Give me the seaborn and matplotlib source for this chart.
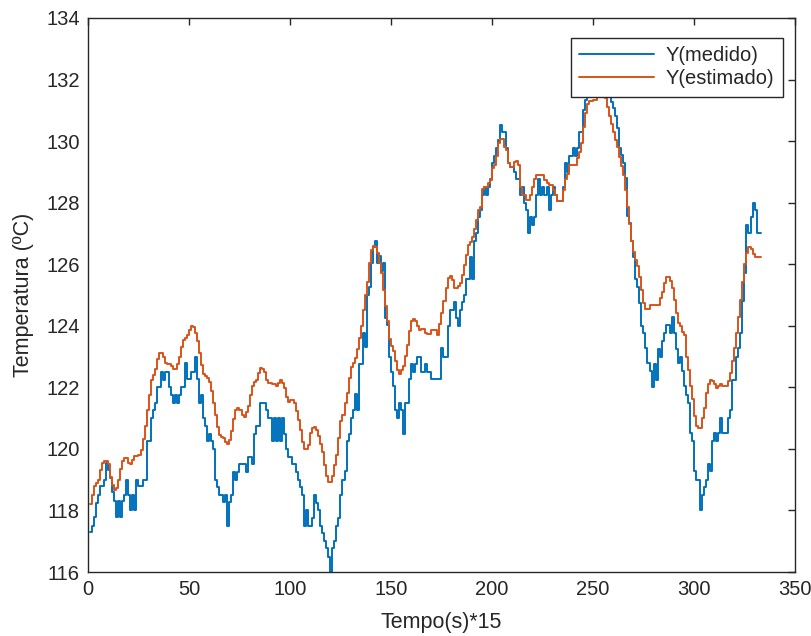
import pandas as pd
import matplotlib
matplotlib.use("Agg")
import matplotlib.pyplot as plt
import seaborn as sns

# Step breakpoints (sample index, temperature)
medido_x = [1, 2, 3, 4, 5, 6, 8, 9, 10, 11, 12, 13, 14, 15, 16, 17, 18, 19, 20, 21, 22, 23, 24, 25, 27, 29,
            31, 32, 33, 34, 36, 37, 38, 40, 41, 42, 43, 44, 45, 46, 48, 49, 51, 53, 54, 55, 56, 57, 58, 59,
            60, 61, 62, 63, 64, 65, 67, 68, 69, 70, 71, 72, 73, 74, 75, 78, 79, 81, 82, 83, 85, 88, 89, 91,
            92, 93, 94, 95, 96, 97, 98, 99, 101, 103, 104, 105, 106, 107, 108, 109, 111, 112, 113, 114, 115,
            116, 117, 118, 119, 120, 121, 122, 123, 124, 125, 126, 127, 128, 129, 130, 131, 132, 133, 134,
            136, 137, 138, 139, 140, 141, 142, 143, 144, 145, 146, 147, 148, 149, 150, 151, 152, 153, 154,
            155, 156, 157, 159, 160, 161, 162, 163, 165, 167, 168, 170, 175, 176, 178, 179, 181, 182, 183,
            184, 185, 186, 187, 189, 190, 191, 192, 193, 194, 195, 196, 197, 198, 199, 200, 201, 202, 203,
            204, 205, 207, 208, 209, 211, 212, 213, 214, 215, 216, 217, 218, 219, 220, 221, 222, 223, 224,
            225, 226, 227, 228, 229, 230, 231, 232, 235, 236, 237, 238, 240, 241, 242, 243, 245, 246, 247,
            248, 250, 252, 254, 256, 258, 259, 260, 261, 262, 263, 264, 265, 266, 267, 268, 269, 270, 271,
            272, 273, 274, 275, 276, 277, 278, 279, 280, 281, 282, 283, 284, 285, 286, 288, 289, 290, 291,
            292, 293, 294, 295, 296, 297, 298, 299, 300, 301, 303, 304, 305, 306, 307, 308, 309, 310, 311,
            312, 313, 314, 317, 318, 319, 321, 322, 323, 324, 325, 326, 327, 328, 329, 330, 331, 333]
medido_y = [117.3, 117.5, 117.8, 118.25, 118.5, 118.8, 119.0, 119.55, 119.3, 119.05, 118.6, 118.3, 117.8,
            118.3, 117.8, 118.3, 118.5, 119.0, 118.5, 118.0, 118.5, 118.0, 119.0, 118.8, 119.0, 120.27,
            121.0, 121.27, 121.5, 122.0, 122.5, 122.25, 122.5, 122.0, 121.75, 121.5, 121.75, 121.5, 121.75,
            122.0, 122.8, 122.27, 122.5, 123.0, 122.27, 121.5, 121.75, 121.0, 120.75, 120.25, 120.5, 120.25,
            120.0, 119.0, 118.77, 118.5, 118.27, 118.5, 117.5, 118.27, 118.5, 119.25, 119.0, 119.25, 119.5,
            119.25, 119.75, 119.5, 120.5, 120.75, 121.5, 121.27, 121.0, 120.25, 121.0, 120.25, 121.0, 120.25,
            121.0, 120.5, 120.0, 119.75, 119.5, 119.25, 119.0, 118.75, 118.5, 117.5, 118.0, 117.5, 117.77,
            118.5, 118.25, 118.0, 117.5, 117.27, 117.0, 116.77, 116.5, 115.9, 116.77, 117.0, 117.5, 117.77,
            118.5, 119.0, 119.27, 120.27, 120.5, 121.0, 121.25, 121.77, 121.25, 122.77, 123.77, 123.3, 125.0,
            125.27, 126.03, 126.57, 126.77, 126.03, 126.27, 125.77, 126.03, 124.26, 124.03, 123.0, 122.5,
            122.03, 121.25, 121.0, 121.5, 121.25, 120.5, 121.5, 122.27, 122.77, 122.5, 122.77, 123.0, 122.5,
            122.77, 122.5, 122.27, 123.28, 123.0, 124.0, 124.52, 124.76, 124.26, 124.0, 124.52, 124.76, 125.0,
            125.52, 126.25, 125.52, 126.77, 127.03, 127.53, 127.77, 128.25, 128.5, 128.25, 128.5, 128.77,
            129.28, 129.52, 129.77, 130.04, 130.53, 130.28, 129.77, 129.28, 129.17, 129.0, 128.77, 128.77,
            128.25, 128.5, 128.0, 127.77, 127.03, 127.53, 127.28, 127.53, 128.25, 128.76, 128.25, 128.5,
            128.25, 128.5, 127.77, 128.25, 128.5, 128.25, 128.04, 128.5, 129.28, 129.0, 129.52, 129.77, 129.52,
            129.77, 130.28, 131.0, 131.34, 131.6, 131.8, 132.0, 131.8, 132.0, 131.8, 131.5, 131.28, 131.06,
            130.8, 130.42, 129.77, 129.55, 129.28, 128.8, 127.57, 127.33, 126.74, 126.25, 125.52, 125.27,
            124.74, 124.0, 123.76, 123.27, 122.79, 122.52, 122.01, 122.77, 122.25, 123.24, 123.0, 123.49,
            123.76, 124.03, 123.76, 124.28, 123.76, 123.24, 122.79, 123.0, 122.52, 122.03, 121.76, 121.5,
            120.52, 120.25, 119.27, 119.0, 118.0, 118.5, 118.75, 119.0, 119.52, 119.27, 120.27, 120.52,
            120.27, 120.52, 121.02, 120.52, 121.02, 121.27, 122.25, 123.0, 123.27, 123.76, 124.79, 125.7,
            127.28, 127.03, 127.53, 128.0, 127.77, 127.03, 127.03]

estimado_x = [1, 2, 3, 4, 5, 6, 7, 8, 10, 11, 12, 13, 14, 15, 16, 17, 18, 20, 21, 22, 23, 25, 26, 27, 28, 29,
              30, 31, 32, 33, 34, 35, 37, 38, 39, 41, 42, 44, 45, 46, 47, 48, 49, 50, 51, 52, 53, 54, 55, 56,
              57, 58, 59, 60, 61, 62, 63, 64, 65, 66, 67, 68, 69, 70, 71, 72, 73, 74, 75, 76, 77, 78, 79, 80,
              81, 82, 83, 84, 85, 86, 87, 88, 89, 91, 93, 94, 95, 96, 97, 98, 99, 100, 102, 103, 104, 105, 106,
              107, 109, 110, 111, 112, 113, 114, 115, 116, 117, 118, 119, 121, 122, 123, 124, 125, 126, 127,
              128, 129, 130, 131, 132, 133, 134, 135, 136, 137, 138, 139, 140, 141, 142, 143, 144, 145, 146,
              147, 148, 149, 150, 151, 152, 153, 154, 155, 156, 157, 158, 159, 160, 161, 162, 163, 164, 165,
              167, 168, 170, 173, 174, 175, 176, 177, 178, 179, 180, 181, 183, 184, 185, 186, 187, 188, 189,
              190, 191, 192, 193, 194, 195, 196, 198, 199, 200, 201, 202, 203, 204, 206, 207, 208, 209, 211,
              212, 213, 214, 215, 217, 219, 220, 221, 222, 226, 227, 228, 230, 231, 232, 235, 236, 237, 238,
              242, 243, 244, 245, 246, 247, 248, 250, 252, 253, 255, 256, 257, 258, 259, 260, 261, 262, 263,
              264, 265, 266, 267, 268, 269, 270, 271, 272, 273, 274, 275, 276, 278, 283, 284, 285, 286, 288,
              289, 290, 291, 292, 293, 294, 295, 296, 297, 298, 299, 300, 301, 302, 304, 305, 306, 307, 308,
              309, 310, 311, 312, 313, 314, 317, 318, 319, 320, 321, 322, 323, 324, 325, 326, 327, 328, 329,
              330, 333]
estimado_y = [118.2, 118.5, 118.78, 118.9, 119.0, 119.32, 119.54, 119.6, 119.5, 119.1, 118.84, 118.68,
              118.72, 119.0, 119.35, 119.6, 119.7, 119.54, 119.5, 119.64, 119.76, 119.8, 119.97, 120.32,
              120.73, 121.27, 121.76, 122.25, 122.4, 122.6, 122.92, 123.13, 123.0, 122.8, 122.77, 122.68,
              122.6, 122.75, 122.98, 123.3, 123.55, 123.6, 123.7, 123.87, 124.0, 123.95, 123.76, 123.49,
              123.13, 122.73, 122.44, 122.37, 122.3, 122.16, 121.87, 121.49, 121.1, 120.71, 120.46, 120.4,
              120.35, 120.21, 120.17, 120.3, 120.57, 120.97, 121.25, 121.33, 121.27, 121.1, 121.05, 121.2,
              121.4, 121.76, 122.05, 122.16, 122.25, 122.46, 122.63, 122.6, 122.5, 122.25, 122.14, 122.1,
              122.03, 122.15, 122.25, 122.14, 121.97, 121.7, 121.54, 121.6, 121.49, 121.22, 120.95, 120.6,
              120.24, 120.0, 120.14, 120.52, 120.68, 120.7, 120.62, 120.43, 120.17, 119.89, 119.49, 119.13,
              118.91, 119.13, 119.49, 119.81, 120.35, 120.9, 121.1, 121.5, 121.83, 122.3, 122.66, 122.79,
              122.95, 123.24, 123.6, 124.0, 124.5, 125.0, 125.42, 126.05, 126.47, 126.6, 126.57, 126.36,
              126.03, 125.71, 125.17, 124.63, 124.14, 123.57, 123.33, 123.17, 122.84, 122.57, 122.44, 122.57,
              122.7, 123.03, 123.38, 123.82, 124.14, 124.21, 124.14, 123.98, 123.87, 123.9, 123.78, 123.74,
              123.87, 123.7, 124.06, 124.41, 124.79, 125.22, 125.55, 125.62, 125.5, 125.22, 125.3, 125.39,
              125.66, 125.98, 126.31, 126.63, 126.71, 126.88, 127.14, 127.44, 127.77, 127.85, 128.44, 128.5,
              128.63, 128.74, 129.12, 129.23, 129.52, 129.95, 130.06, 129.82, 129.71, 129.3, 129.17, 129.33,
              129.36, 129.23, 128.5, 128.25, 128.1, 128.25, 128.5, 128.76, 128.9, 128.74, 128.65, 128.57,
              128.42, 128.25, 128.05, 128.42, 128.76, 128.94, 129.23, 129.45, 129.65, 129.95, 130.45, 130.9,
              131.2, 131.3, 131.35, 131.5, 131.65, 131.6, 131.4, 131.1, 130.8, 130.55, 130.3, 130.05, 129.8,
              129.5, 129.2, 128.9, 128.4, 127.85, 127.3, 126.75, 126.4, 126.15, 125.95, 125.6, 125.15, 124.75,
              124.55, 124.68, 124.9, 125.11, 125.39, 125.6, 125.44, 125.22, 124.84, 124.41, 124.09, 124.0,
              123.8, 123.7, 123.0, 122.55, 122.05, 121.62, 121.08, 120.75, 120.68, 121.0, 121.33, 121.81,
              122.12, 122.25, 122.2, 122.1, 121.98, 122.05, 122.1, 122.03, 122.2, 122.46, 122.84, 123.27,
              123.78, 124.3, 124.84, 125.42, 126.0, 126.38, 126.55, 126.5, 126.33, 126.23, 126.23]

x_ticks = [0, 50, 100, 150, 200, 250, 300, 350]
y_ticks = [116, 118, 120, 122, 124, 126, 128, 130, 132, 134]
labels = ["Y(medido)", "Y(estimado)"]
colors = ["#0072BD", "#D95319"]

df = pd.concat([
    pd.DataFrame({"t": medido_x, "T": medido_y, "serie": labels[0]}),
    pd.DataFrame({"t": estimado_x, "T": estimado_y, "serie": labels[1]}),
])

sns.set_theme(style="white")
plt.rcParams["font.family"] = ["Liberation Sans", "DejaVu Sans"]

fig = plt.figure(figsize=(8.11, 6.36), dpi=100)
ax = fig.add_axes([0.1085, 0.1006, 0.8717, 0.8711])

sns.lineplot(data=df, x="t", y="T", hue="serie", palette=colors, hue_order=labels,
             estimator=None, sort=False, drawstyle="steps-post", linewidth=1.4, ax=ax)

ax.set_xlim(0, 350)
ax.set_ylim(116, 134)
ax.set_xticks(x_ticks)
ax.set_yticks(y_ticks)
ax.tick_params(direction="in", top=True, right=True, length=5, width=1,
               labelsize=14.5, colors="#262626", pad=6)
for s in ax.spines.values():
    s.set_color("#262626")
    s.set_linewidth(1.0)
ax.set_xlabel("Tempo(s)*15", fontsize=15.5, color="#262626", labelpad=9)
ax.set_ylabel("Temperatura (ºC)", fontsize=15.5, color="#262626", labelpad=9)

# rebuild the legend in a MATLAB-like square box
handles = ax.get_legend().legend_handles
ax.get_legend().remove()
leg = ax.legend(handles, labels, loc="upper right", bbox_to_anchor=(0.983, 0.964),
                fancybox=False, framealpha=1, edgecolor="#262626", fontsize=14.5,
                handlelength=3.7, borderpad=0.42, labelspacing=0.2, handletextpad=0.6,
                borderaxespad=0)
leg.get_frame().set_linewidth(1.0)

fig.savefig("out.png", dpi=100)
